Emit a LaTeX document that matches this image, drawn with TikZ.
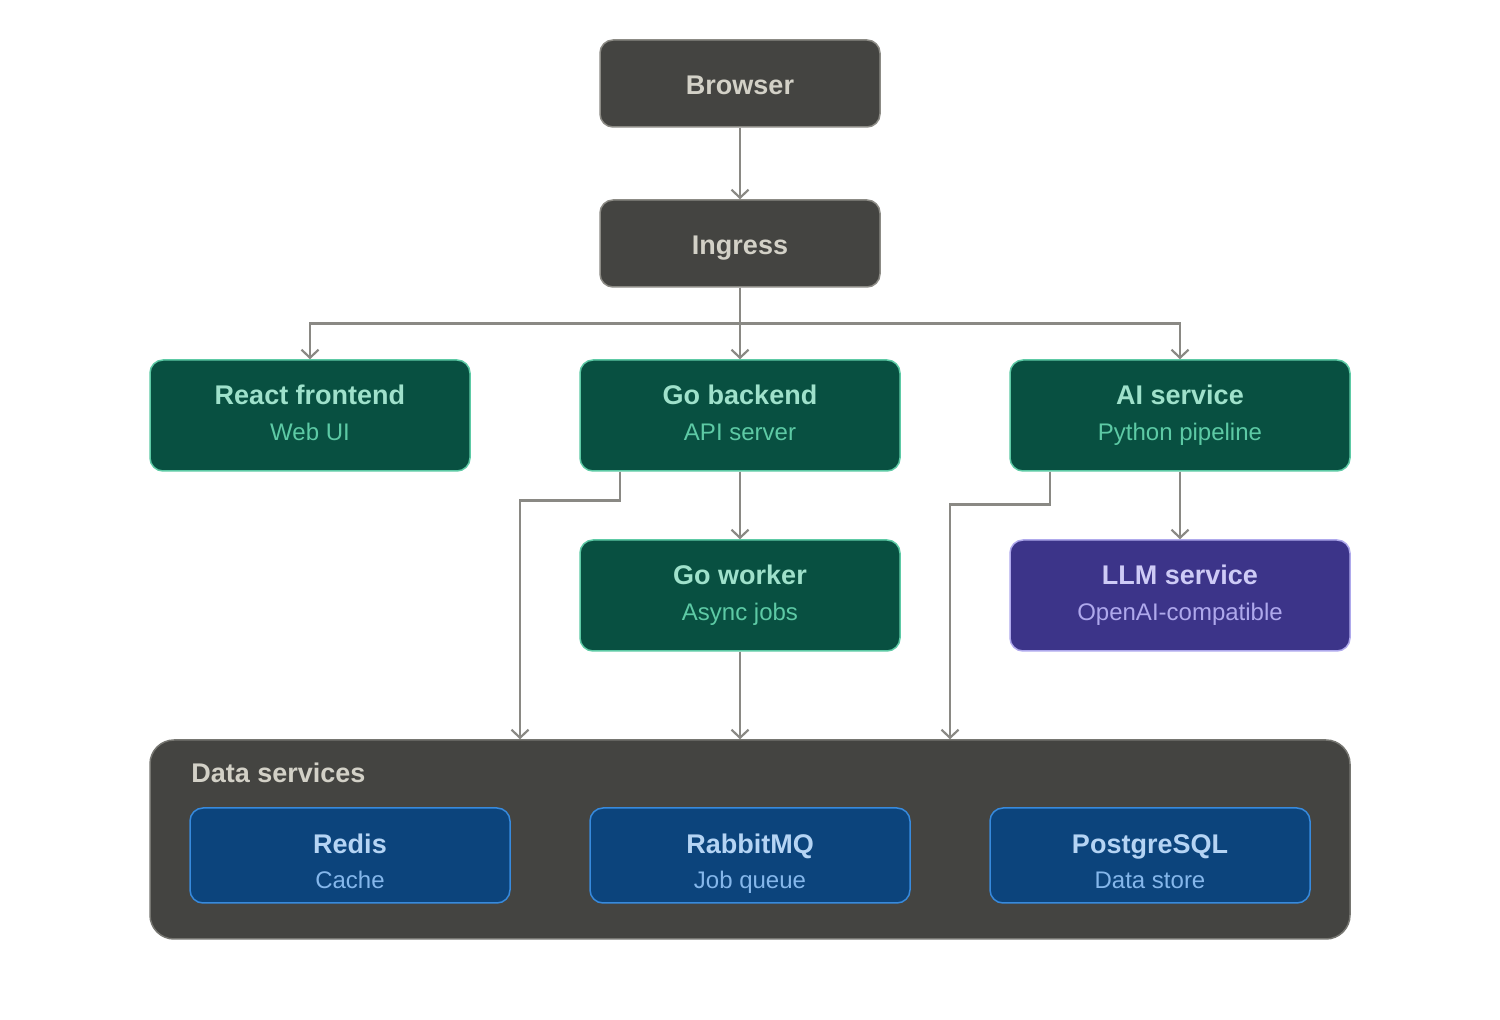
\documentclass[tikz,border=0pt]{standalone}
\usepackage{fontspec}
\setmainfont{Liberation Sans}
\usetikzlibrary{arrows.meta,calc}
\definecolor{darkbox}{HTML}{444441}
\definecolor{darkline}{HTML}{8C8B85}
\definecolor{darktext}{HTML}{D3D1C7}
\definecolor{greenfill}{HTML}{085041}
\definecolor{greenline}{HTML}{5DCAA5}
\definecolor{greentitle}{HTML}{9FE1CB}
\definecolor{greensub}{HTML}{5DCAA5}
\definecolor{purplefill}{HTML}{3C3489}
\definecolor{purpleline}{HTML}{AFA9EC}
\definecolor{purpletitle}{HTML}{CECBF6}
\definecolor{purplesub}{HTML}{AFA9EC}
\definecolor{bluefill}{HTML}{0C447C}
\definecolor{blueline}{HTML}{378ADD}
\definecolor{bluetitle}{HTML}{B5D4F4}
\definecolor{bluesub}{HTML}{85B7EB}
\definecolor{arrowgray}{HTML}{8A8984}
\tikzset{
  boxbase/.style={rectangle, rounded corners=6.5pt, line width=0.75pt, inner sep=0pt},
  darkstyle/.style={boxbase, fill=darkbox, draw=darkline, minimum width=140pt, minimum height=43.5pt},
  greenstyle/.style={boxbase, fill=greenfill, draw=greenline, minimum width=160pt, minimum height=55.5pt},
  widestyle/.style={boxbase, minimum width=170pt, minimum height=55.5pt},
  bluestyle/.style={boxbase, fill=bluefill, draw=blueline, minimum width=160pt, minimum height=47.5pt},
  containerstyle/.style={rectangle, rounded corners=12pt, fill=darkbox, draw=darkline!70!darkbox, line width=0.75pt, minimum width=600pt, minimum height=99.5pt, inner sep=0pt},
  titletext/.style={font=\bfseries\fontsize{13.5}{16}\selectfont, inner sep=0pt, anchor=base},
  subtext/.style={font=\fontsize{12}{14}\selectfont, inner sep=0pt, anchor=base},
  conn/.style={draw=arrowgray, line width=1.25pt, -{Straight Barb[length=4pt,width=8.5pt,line width=1.1pt]}},
}
\begin{document}
\begin{tikzpicture}[x=0.5pt,y=-0.5pt]
\useasboundingbox (0,0) rectangle (1500,1020);
% dark top boxes
\node[darkstyle] (browser) at (740,83.5) {};
\node[titletext, text=darktext] (browsert) at (740,95) {Browser};
\node[darkstyle] (ingress) at (740,243.5) {};
\node[titletext, text=darktext] (ingresst) at (740,255) {Ingress};
% green row
\node[greenstyle] (react) at (310,415.5) {};
\node[titletext, text=greentitle] (reactt) at (310,405) {React frontend};
\node[subtext, text=greensub] (reacts) at (310,441) {Web UI};
\node[greenstyle] (gob) at (740,415.5) {};
\node[titletext, text=greentitle] (gobt) at (740,405) {Go backend};
\node[subtext, text=greensub] (gobs) at (740,441) {API server};
\node[widestyle, fill=greenfill, draw=greenline] (ai) at (1180,415.5) {};
\node[titletext, text=greentitle] (ait) at (1180,405) {AI service};
\node[subtext, text=greensub] (ais) at (1180,441) {Python pipeline};
% second row
\node[greenstyle] (gow) at (740,595.5) {};
\node[titletext, text=greentitle] (gowt) at (740,585) {Go worker};
\node[subtext, text=greensub] (gows) at (740,621) {Async jobs};
\node[widestyle, fill=purplefill, draw=purpleline] (llm) at (1180,595.5) {};
\node[titletext, text=purpletitle] (llmt) at (1180,585) {LLM service};
\node[subtext, text=purplesub] (llms) at (1180,621) {OpenAI-compatible};
% data services container
\node[containerstyle] (data) at (750,839.5) {};
\node[titletext, text=darktext, anchor=base west] (datat) at (191,783) {Data services};
\node[bluestyle] (redis) at (350,855.5) {};
\node[titletext, text=bluetitle] (redist) at (350,853.5) {Redis};
\node[subtext, text=bluesub] (rediss) at (350,888.5) {Cache};
\node[bluestyle] (rabbit) at (750,855.5) {};
\node[titletext, text=bluetitle] (rabbitt) at (750,853.5) {RabbitMQ};
\node[subtext, text=bluesub] (rabbits) at (750,888.5) {Job queue};
\node[bluestyle] (pg) at (1150,855.5) {};
\node[titletext, text=bluetitle] (pgt) at (1150,853.5) {PostgreSQL};
\node[subtext, text=bluesub] (pgs) at (1150,888.5) {Data store};
% connectors
\draw[conn] (browser.south) -- (ingress.north);
\draw[conn] (ingress.south) -- ++(0,36) -| (react.north);
\draw[conn] (ingress.south) -- (gob.north);
\draw[conn] (ingress.south) -- ++(0,36) -| (ai.north);
\draw[conn] ([xshift=-60pt]gob.south) -- ++(0,29) -| ([xshift=-115pt]data.north);
\draw[conn] (gob.south) -- (gow.north);
\draw[conn] (gow.south) -- (gow.south |- data.north);
\draw[conn] ([xshift=-65pt]ai.south) -- ++(0,33) -| ([xshift=100pt]data.north);
\draw[conn] (ai.south) -- (llm.north);
\end{tikzpicture}
\end{document}
